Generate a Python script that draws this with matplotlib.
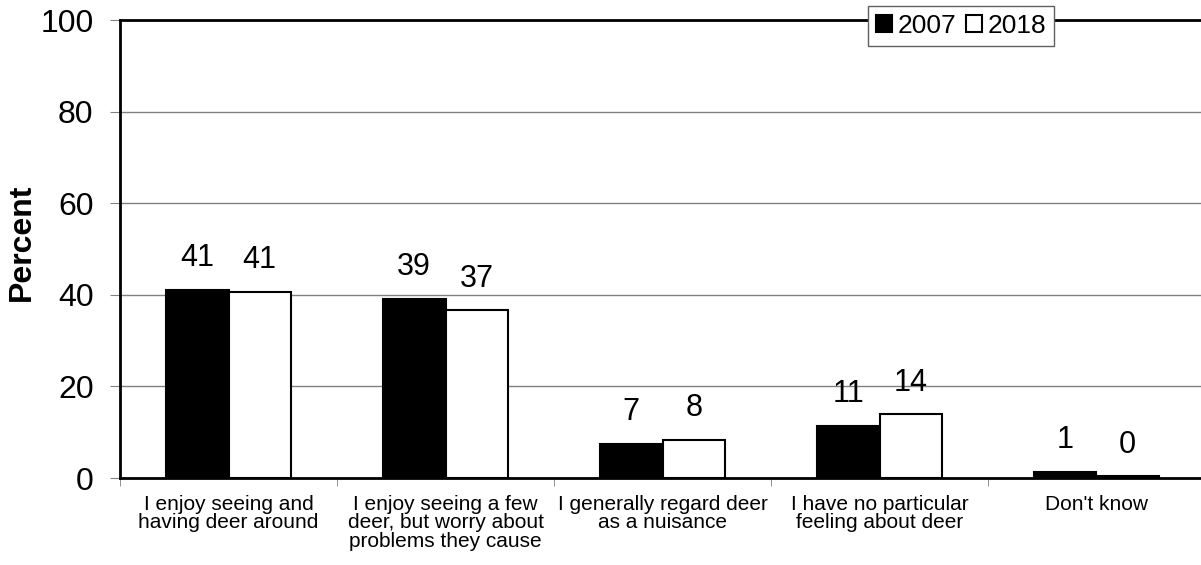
import matplotlib
matplotlib.use('Agg')
import matplotlib.pyplot as plt
import numpy as np

plt.rcParams['font.family'] = ['Liberation Sans', 'DejaVu Sans']

# Data
categories = ['I enjoy seeing and\nhaving deer around',
              'I enjoy seeing a few\ndeer, but worry about\nproblems they cause',
              'I generally regard deer\nas a nuisance',
              'I have no particular\nfeeling about deer',
              "Don't know"]
values_2007 = [41.1, 39.1, 7.4, 11.4, 1.3]
values_2018 = [40.7, 36.6, 8.3, 13.9, 0.4]
labels_2007 = ['41', '39', '7', '11', '1']
labels_2018 = ['41', '37', '8', '14', '0']
yticks = [0, 20, 40, 60, 80, 100]

fig = plt.figure(figsize=(12.01, 5.65), dpi=100)
ax = fig.add_axes([120 / 1201, (565 - 478) / 565, 1085 / 1201, 458 / 565])

x = np.arange(len(categories))
w = 0.288
b1 = ax.bar(x - w / 2, values_2007, w, color='black', edgecolor='black',
            linewidth=1.5, label='2007', zorder=3)
b2 = ax.bar(x + w / 2, values_2018, w, color='white', edgecolor='black',
            linewidth=1.5, label='2018', zorder=3)

for bars, labs in ((b1, labels_2007), (b2, labels_2018)):
    for bar, lab in zip(bars, labs):
        ax.annotate(lab, (bar.get_x() + bar.get_width() / 2, bar.get_height()),
                    xytext=(0, 12), textcoords='offset points',
                    ha='center', va='bottom', fontsize=22)

ax.set_xlim(-0.5, len(categories) - 0.5)
ax.set_ylim(0, 100)
ax.set_yticks(yticks)
ax.tick_params(axis='y', labelsize=23, length=7, color='#808080', pad=12)
ax.yaxis.grid(True, color='#808080', linewidth=1, zorder=0)

ax.set_xticks(x)
ax.set_xticklabels(categories, fontsize=15, linespacing=0.98)
ax.set_xticks(np.arange(len(categories) + 1) - 0.5, minor=True)
ax.tick_params(axis='x', which='major', length=0, pad=12)
ax.tick_params(axis='x', which='minor', length=6, color='#808080')

for s in ['left', 'bottom', 'top']:
    ax.spines[s].set_linewidth(2)
ax.spines['right'].set_visible(False)

ax.set_ylabel('Percent', fontsize=23, fontweight='bold')
ax.yaxis.set_label_coords(-0.077, 0.515)

leg = ax.legend(loc='upper left', bbox_to_anchor=(868 / 1201, 1 - 6 / 565),
                bbox_transform=fig.transFigure, ncol=2, fontsize=19,
                handlelength=0.62, handleheight=0.62, handletextpad=0.2,
                columnspacing=0.35, borderpad=0.3, borderaxespad=0,
                fancybox=False, framealpha=1)
leg.get_frame().set_edgecolor('#606060')
leg.get_frame().set_linewidth(1)

fig.savefig('out.png', dpi=100)
